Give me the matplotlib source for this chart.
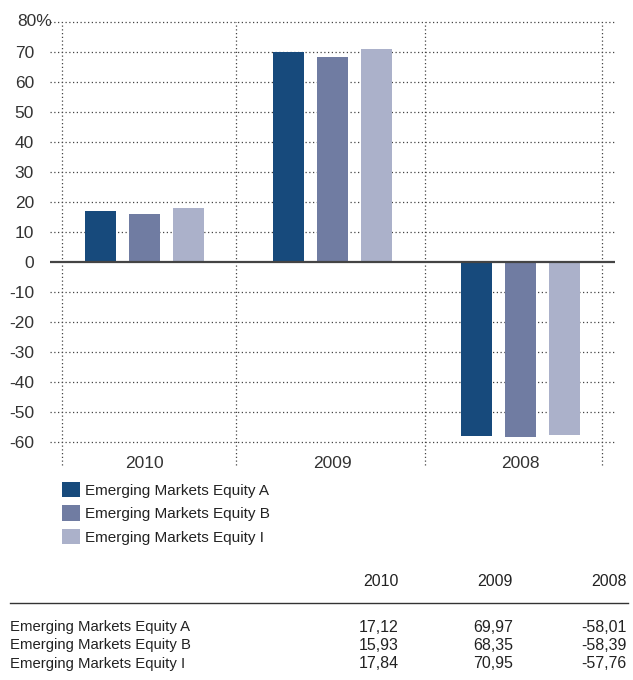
import matplotlib.pyplot as plt
import numpy as np

plt.rcParams['font.family'] = ['Liberation Sans', 'DejaVu Sans']

years = ['2010', '2009', '2008']
funds = ['Emerging Markets Equity A', 'Emerging Markets Equity B', 'Emerging Markets Equity I']
equity_a = [17.12, 69.97, -58.01]
equity_b = [15.93, 68.35, -58.39]
equity_i = [17.84, 70.95, -57.76]
colors = ['#174a7c', '#707ca2', '#abb1ca']
yticks = [80, 70, 60, 50, 40, 30, 20, 10, 0, -10, -20, -30, -40, -50, -60]

W, H = 633, 680
fig = plt.figure(figsize=(W / 100, H / 100), dpi=100)
ax = fig.add_axes([50 / W, 1 - 442 / H, 565 / W, 420 / H])

x = np.arange(len(years))
width = 0.165
offset = 0.234
series = [equity_a, equity_b, equity_i]
bars = []
for i, (vals, c) in enumerate(zip(series, colors)):
    b = ax.bar(x + (i - 1) * offset, vals, width, color=c, zorder=3)
    bars.append(b)

ax.set_xlim(-0.5, 2.5)
ax.set_ylim(-60, 80)

# dotted horizontal grid
for t in yticks:
    if t != 0:
        ax.axhline(t, color='#444444', linestyle=(0, (1, 2)), linewidth=0.9,
                   zorder=1, clip_on=False)
ax.axhline(0, color='#444444', linewidth=1.6, zorder=4)

# dotted vertical separators, running below the axes
for xs in [-0.436, 0.49, 1.49, 2.43]:
    ax.plot([xs, xs], [-67.8, 80], color='#444444', linestyle=(0, (1, 2)),
            linewidth=0.9, clip_on=False, zorder=1)

# top label carries the % sign, and hangs past the other labels
ax.set_yticks(yticks)
ax.set_yticklabels([''] + [str(t) for t in yticks[1:]])
ax.tick_params(axis='y', length=0, pad=11.5, labelsize=12.5, labelcolor='#333333')
ax.text(17 / W, 1 - 22 / H, '80%', transform=fig.transFigure, ha='left',
        va='center', fontsize=12.5, color='#333333')
ax.set_xticks(x)
ax.set_xticklabels(years)
ax.tick_params(axis='x', length=0, pad=10, labelsize=12.5, labelcolor='#333333')
for s in ax.spines.values():
    s.set_visible(False)

fig.legend([b[0] for b in bars], funds, loc='upper left',
           bbox_to_anchor=(62 / W, 1 - 482 / H), frameon=False,
           handlelength=1.15, handleheight=1.15, labelspacing=0.5,
           handletextpad=0.35, borderpad=0, borderaxespad=0,
           fontsize=11, labelcolor='#222222')

# table below the chart
col_x = [399, 513, 627]
for cx, yr in zip(col_x, years):
    fig.text(cx / W, 1 - 581 / H, yr, ha='right', va='center', fontsize=11.5, color='#222222')
fig.add_artist(plt.Line2D([10 / W, 628 / W], [1 - 603 / H, 1 - 603 / H],
                          color='#333333', linewidth=1))
row_y = [627, 645, 664]
for ry, name, vals in zip(row_y, funds, series):
    fig.text(10 / W, 1 - ry / H, name, ha='left', va='center', fontsize=10.7, color='#222222')
    for cx, v in zip(col_x, vals):
        fig.text(cx / W, 1 - ry / H, f'{v:.2f}'.replace('.', ','), ha='right',
                 va='center', fontsize=11.5, color='#222222')

fig.savefig('out.png', dpi=100)
